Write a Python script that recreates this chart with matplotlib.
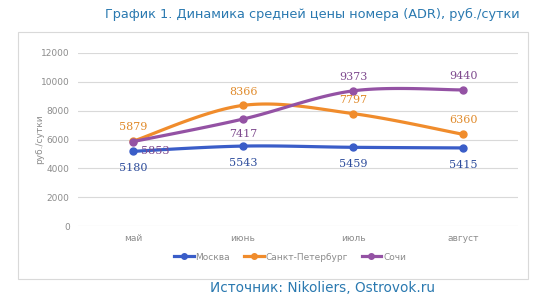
import matplotlib.pyplot as plt
import numpy as np
from matplotlib.patches import Rectangle

months = ['май', 'июнь', 'июль', 'август']
moscow = [5180, 5543, 5459, 5415]
spb = [5879, 8366, 7797, 6360]
sochi = [5853, 7417, 9373, 9440]

series = [
    ('Москва', moscow, '#3a5dc8', '#2e4d9c'),
    ('Санкт-Петербург', spb, '#f08c2c', '#e08a2a'),
    ('Сочи', sochi, '#9452a4', '#7e4a8e'),
]
# label offsets in points (dx, dy)
offsets = {
    'Москва': [(0, -12), (0, -12), (0, -12), (0, -12)],
    'Санкт-Петербург': [(0, 10), (0, 10), (0, 10), (0, 10)],
    'Сочи': [(16, -7), (0, -11), (0, 10), (0, 10)],
}


def smooth(x, y, n=30):
    # Catmull-Rom style smoothing, like Excel's smoothed line
    x = np.asarray(x, float)
    y = np.asarray(y, float)
    px = np.concatenate([[x[0]], x, [x[-1]]])
    py = np.concatenate([[y[0]], y, [y[-1]]])
    xs, ys = [], []
    t = np.linspace(0, 1, n)
    for i in range(1, len(px) - 2):
        p0, p1, p2, p3 = [np.array([px[j], py[j]]) for j in range(i - 1, i + 3)]
        c1 = p1 + (p2 - p0) / 6
        c2 = p2 - (p3 - p1) / 6
        pts = ((1 - t) ** 3)[:, None] * p1 + (3 * (1 - t) ** 2 * t)[:, None] * c1 \
            + (3 * (1 - t) * t ** 2)[:, None] * c2 + (t ** 3)[:, None] * p2
        xs.extend(pts[:, 0])
        ys.extend(pts[:, 1])
    return xs, ys


fig = plt.figure(figsize=(5.57, 3.08), dpi=100)
fig.patches.append(Rectangle((18 / 557, 1 - 279 / 308), 510 / 557, 247 / 308,
                             transform=fig.transFigure, fill=False,
                             edgecolor='#d9d9d9', linewidth=0.8))

ax = fig.add_axes([78 / 557, 1 - 226 / 308, 440 / 557, 173 / 308])
x = np.arange(len(months))

for name, vals, color, lcolor in series:
    sx, sy = smooth(x, vals)
    ax.plot(sx, sy, color=color, linewidth=2.3, solid_capstyle='round')
    ax.plot(x, vals, 'o', color=color, markersize=5)
    for i, v in enumerate(vals):
        dx, dy = offsets[name][i]
        ax.annotate(str(v), (x[i], v), xytext=(dx, dy), textcoords='offset points',
                    ha='center', va='center', fontsize=8, color=lcolor,
                    family='DejaVu Serif', weight='medium')

ax.set_xlim(-0.5, 3.5)
ax.set_ylim(0, 12000)
ax.set_yticks(range(0, 12001, 2000))
ax.set_xticks(x)
ax.set_xticklabels(months)
ax.grid(axis='y', color='#d9d9d9', linewidth=0.8)
ax.set_axisbelow(True)
for s in ax.spines.values():
    s.set_visible(False)
ax.tick_params(length=0, labelsize=6.5, colors='#8c8c8c', pad=6)
ax.set_ylabel('руб./сутки', fontsize=6.5, color='#8c8c8c')
ax.yaxis.set_label_coords(-0.077, 0.5)

handles = [plt.Line2D([], [], color=c, linewidth=2.3, marker='o', markersize=4)
           for _, _, c, _ in series]
fig.legend(handles, [s[0] for s in series], loc='center', bbox_to_anchor=(290 / 557, 1 - 257 / 308),
           ncol=3, frameon=False, fontsize=6.5, labelcolor='#8c8c8c',
           handlelength=2.2, handletextpad=0.2, columnspacing=1.5)

fig.text(520 / 557, 1 - 14 / 308, 'График 1. Динамика средней цены номера (ADR), руб./сутки',
         ha='right', va='center', fontsize=9.3, color='#2a79b0')
fig.text(322 / 557, 1 - 288 / 308, 'Источник: Nikoliers, Ostrovok.ru',
         ha='center', va='center', fontsize=9.8, color='#2a79b0')

fig.savefig('out.png', dpi=100)
